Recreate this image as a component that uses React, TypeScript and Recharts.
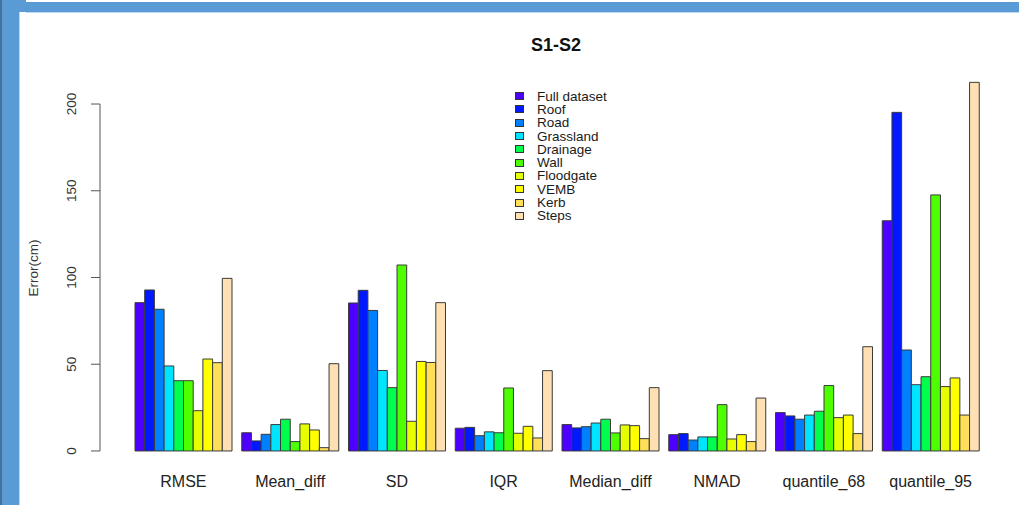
import { Bar, BarChart, Legend, XAxis, YAxis } from 'recharts'

const categories = ['RMSE', 'Mean_diff', 'SD', 'IQR', 'Median_diff', 'NMAD', 'quantile_68', 'quantile_95']
const seriesNames = ['Full dataset', 'Roof', 'Road', 'Grassland', 'Drainage', 'Wall', 'Floodgate', 'VEMB', 'Kerb', 'Steps']
const seriesColors = ['#4C00FF', '#0019FF', '#0080FF', '#00E5FF', '#00FF4D', '#4DFF00', '#E6FF00', '#FFFF00', '#FFDE59', '#FFE0B3']

const fullDataset = [85.5, 10.5, 85.3, 13.1, 15.2, 9.4, 22.1, 132.7]
const roof = [92.8, 5.8, 92.6, 13.6, 13.3, 10.0, 20.2, 195.2]
const road = [81.7, 9.6, 81.0, 8.8, 14.0, 6.3, 18.3, 58.2]
const grassland = [49.0, 15.2, 46.4, 11.0, 16.1, 8.1, 20.7, 38.2]
const drainage = [40.5, 18.3, 36.5, 10.5, 18.3, 8.1, 22.9, 42.8]
const wall = [40.5, 5.4, 107.2, 36.3, 10.4, 26.7, 37.7, 147.6]
const floodgate = [23.2, 15.6, 17.1, 10.2, 15.0, 6.9, 19.2, 37.1]
const vemb = [53.0, 12.1, 51.6, 14.2, 14.6, 9.4, 20.7, 42.1]
const kerb = [50.9, 1.9, 51.0, 7.5, 7.1, 5.4, 10.0, 20.7]
const steps = [99.5, 50.3, 85.5, 46.3, 36.5, 30.5, 60.1, 212.5]

const yTicks = [0, 50, 100, 150, 200]

const seriesValues = [fullDataset, roof, road, grassland, drainage, wall, floodgate, vemb, kerb, steps]

const data = categories.map((cat, i) => {
  const row: Record<string, string | number> = { category: cat }
  seriesNames.forEach((name, s) => {
    row[name] = seriesValues[s][i]
  })
  return row
})

const W = 1019
const H = 505
const PLOT_LEFT = 100
const PLOT_BOTTOM_GAP = 39.3
const Y_AXIS_W = 40
const X_AXIS_H = 20
const margin = { top: 67.6, right: 7, bottom: PLOT_BOTTOM_GAP - X_AXIS_H, left: PLOT_LEFT - Y_AXIS_W }
const Y_MIN = -8.5
const Y_MAX = 221
const pxPerUnit = (H - margin.top - PLOT_BOTTOM_GAP) / (Y_MAX - Y_MIN)
const FONT = '"Liberation Sans", Arial, sans-serif'
const AXIS_X = PLOT_LEFT

const YTick = (props: any) => {
  const { y, payload } = props
  const v = payload.value
  return (
    <g>
      <line x1={AXIS_X - 9} x2={AXIS_X} y1={y} y2={y} stroke="#555" strokeWidth={1} />
      <text
        x={72}
        y={y}
        transform={`rotate(-90, 72, ${y})`}
        textAnchor="middle"
        dominantBaseline="central"
        fontFamily={FONT}
        fontSize={13.5}
        fill="#333"
      >
        {v}
      </text>
      {v === 0 && (
        <line x1={AXIS_X} x2={AXIS_X} y1={y} y2={y - 200 * pxPerUnit} stroke="#555" strokeWidth={1} />
      )}
    </g>
  )
}

const XTick = (props: any) => {
  const { x, payload } = props
  return (
    <text
      x={x}
      y={481}
      textAnchor="middle"
      dominantBaseline="central"
      fontFamily={FONT}
      fontSize={16}
      fill="#222"
    >
      {payload.value}
    </text>
  )
}

const LegendBox = () => (
  <div style={{ fontFamily: FONT, fontSize: 13.5, color: '#1a1a1a' }}>
    {seriesNames.map((name, i) => (
      <div key={name} style={{ display: 'flex', alignItems: 'center', height: 13.3 }}>
        <div
          style={{
            width: 7,
            height: 6,
            background: seriesColors[i],
            border: '1px solid #333',
            marginRight: 13,
          }}
        />
        <span style={{ lineHeight: '13px' }}>{name}</span>
      </div>
    ))}
  </div>
)

export default function App() {
  return (
    <div style={{ position: 'absolute', left: 0, top: 0, width: W, height: H, background: '#fff', overflow: 'hidden' }}>
      <div style={{ position: 'absolute', left: 0, top: 0, width: 2, height: H, background: '#41719C' }} />
      <div style={{ position: 'absolute', left: 2, top: 0, width: 17, height: H, background: '#5B9BD5' }} />
      <div style={{ position: 'absolute', left: 19, top: 0, width: 1, height: H, background: '#BDD7EE' }} />
      <div style={{ position: 'absolute', left: 19, top: 0, width: 7, height: 12, background: '#5B9BD5' }} />
      <div style={{ position: 'absolute', left: 26, top: 2, width: W - 26, height: 10, background: '#5B9BD5' }} />
      <div style={{ position: 'absolute', left: 26, top: 12, width: W - 26, height: 1, background: '#BDD7EE' }} />
      <div
        style={{
          position: 'absolute',
          left: PLOT_LEFT,
          width: W - PLOT_LEFT - margin.right,
          top: 35,
          textAlign: 'center',
          fontFamily: FONT,
          fontWeight: 'bold',
          fontSize: 18,
          color: '#111',
        }}
      >
        S1-S2
      </div>
      <div style={{ position: 'absolute', left: 0, top: 0 }}>
        <BarChart width={W} height={H} data={data} margin={margin} barSize={9.7} barGap={0}>
          <XAxis
            dataKey="category"
            height={X_AXIS_H}
            axisLine={false}
            tickLine={false}
            tick={<XTick />}
            interval={0}
            padding={{ left: 30, right: 28 }}
          />
          <YAxis
            width={Y_AXIS_W}
            domain={[Y_MIN, Y_MAX]}
            allowDataOverflow
            ticks={yTicks}
            axisLine={false}
            tickLine={false}
            tick={<YTick />}
            interval={0}
            label={{
              content: () => (
                <text
                  x={33}
                  y={268}
                  transform="rotate(-90, 33, 268)"
                  textAnchor="middle"
                  dominantBaseline="central"
                  fontFamily={FONT}
                  fontSize={13.5}
                  fill="#333"
                >
                  Error(cm)
                </text>
              ),
            }}
          />
          <Legend
            layout="vertical"
            align="center"
            verticalAlign="middle"
            content={<LegendBox />}
            wrapperStyle={{ left: 515, top: 89.5, width: 'auto' }}
          />
          {seriesNames.map((name, i) => (
            <Bar
              key={name}
              dataKey={name}
              fill={seriesColors[i]}
              stroke="#3a3a3a"
              strokeWidth={1}
              isAnimationActive={false}
            />
          ))}
        </BarChart>
      </div>
    </div>
  )
}
